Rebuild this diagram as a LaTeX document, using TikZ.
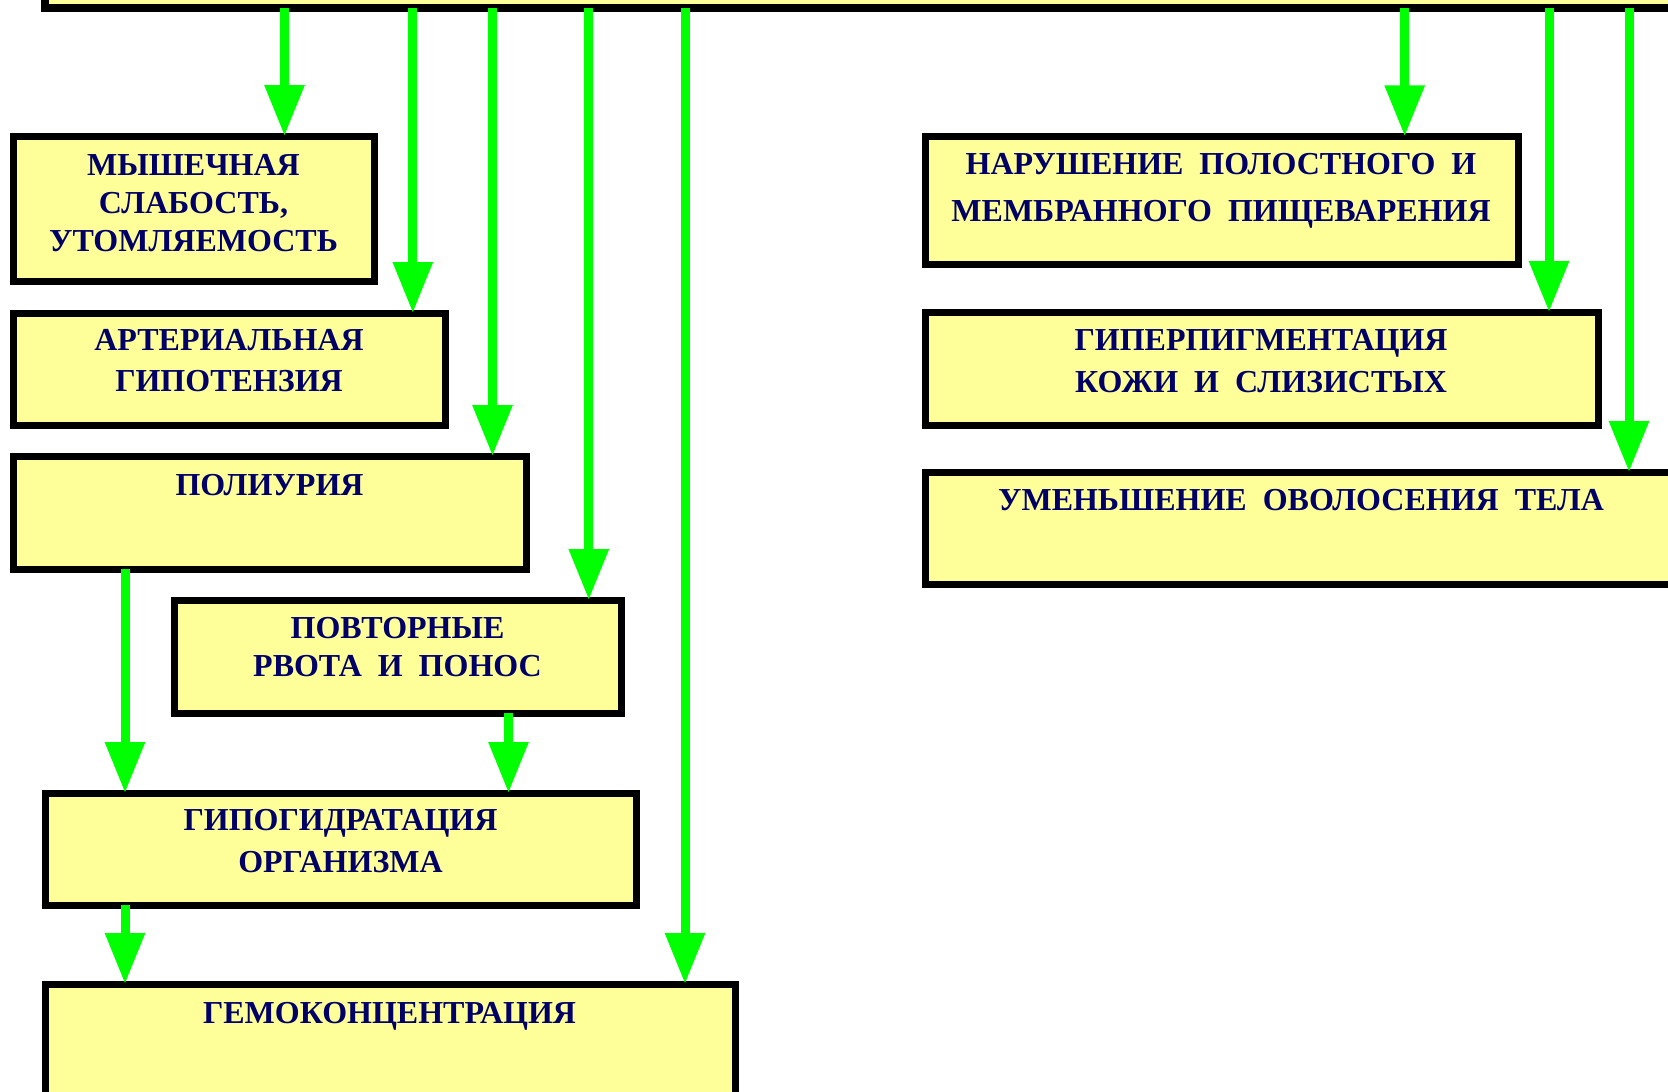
\documentclass[tikz,border=0pt]{standalone}
\usepackage{fontspec}
\setmainfont{Liberation Serif}
\usetikzlibrary{arrows.meta}
\definecolor{boxfill}{RGB}{255,255,153}
\definecolor{txtc}{RGB}{0,0,102}
\definecolor{arrc}{RGB}{0,255,0}
\tikzset{
  box/.style={draw=black, line width=7pt, fill=boxfill, outer sep=0pt, inner sep=0pt, anchor=north west},
  topbox/.style={box, line width=8pt},
  txt/.style={text=txtc, inner sep=0pt, outer sep=0pt, anchor=north, align=center},
  arr/.style={draw=arrc, line width=9pt, -{Triangle[length=51pt,width=38pt]}},
}
\newcommand{\fs}[1]{\fontsize{32}{#1}\selectfont\bfseries}
\begin{document}
\begin{tikzpicture}[x=1pt,y=-1pt]
\useasboundingbox (0,0) rectangle (1668,1092);
\clip (0,0) rectangle (1668,1092);
% boxes
\node[topbox, minimum width=1675pt, minimum height=68pt] (top) at (45,-60) {};
\node[box, minimum width=361pt, minimum height=145pt] (b1) at (13.5,136) {};
\node[box, minimum width=432pt, minimum height=112pt] (b2) at (13.5,313) {};
\node[box, minimum width=513pt, minimum height=113pt] (b3) at (13.5,456) {};
\node[box, minimum width=447pt, minimum height=113pt] (b4) at (174,600) {};
\node[box, minimum width=591pt, minimum height=112pt] (b5) at (45.5,793) {};
\node[box, minimum width=690pt, minimum height=136pt] (b6) at (45.5,984) {};
\node[box, minimum width=593pt, minimum height=128.5pt] (r1) at (925,136.4) {};
\node[box, minimum width=673pt, minimum height=113pt] (r2) at (925,312) {};
\node[box, minimum width=755pt, minimum height=112pt] (r3) at (925,472) {};
% texts
\node[txt, font=\fs{38.3}] (t1) at (193.5,154) {МЫШЕЧНАЯ\\СЛАБОСТЬ,\\УТОМЛЯЕМОСТЬ};
\node[txt, font=\fs{41.8}] (t2) at (229,329) {АРТЕРИАЛЬНАЯ\\ГИПОТЕНЗИЯ};
\node[txt, font=\fs{38}] (t3) at (269.5,474) {ПОЛИУРИЯ};
\node[txt, font=\fs{37.6}] (t4) at (397.5,617.4) {ПОВТОРНЫЕ\\РВОТА~~И~~ПОНОС};
\node[txt, font=\fs{41.8}] (t5) at (340.5,809.8) {ГИПОГИДРАТАЦИЯ\\ОРГАНИЗМА};
\node[txt, font=\fs{38}] (t6) at (389.5,1002.4) {ГЕМОКОНЦЕНТРАЦИЯ};
\node[txt, font=\fs{47}] (tr1) at (1221,153.3) {НАРУШЕНИЕ~~ПОЛОСТНОГО~~И\\МЕМБРАННОГО~~ПИЩЕВАРЕНИЯ};
\node[txt, font=\fs{41.8}] (tr2) at (1261,329.3) {ГИПЕРПИГМЕНТАЦИЯ\\КОЖИ~~И~~СЛИЗИСТЫХ};
\node[txt, font=\fs{38}] (tr3) at (1301,489.5) {УМЕНЬШЕНИЕ~~ОВОЛОСЕНИЯ~~ТЕЛА};
% arrow columns
\coordinate (c1) at (284.5,0);
\coordinate (c2) at (412.8,0);
\coordinate (c3) at (492.5,0);
\coordinate (c4) at (588.8,0);
\coordinate (c5) at (685,0);
\coordinate (c6) at (125,0);
\coordinate (c7) at (508.5,0);
\coordinate (c8) at (1404.7,0);
\coordinate (c9) at (1549,0);
\coordinate (c10) at (1629,0);
% connectors
\draw[arr] (c1 |- top.south) -- (c1 |- b1.north);
\draw[arr] (c2 |- top.south) -- (c2 |- b2.north);
\draw[arr] (c3 |- top.south) -- (c3 |- b3.north);
\draw[arr] (c4 |- top.south) -- (c4 |- b4.north);
\draw[arr] (c5 |- top.south) -- (c5 |- b6.north);
\draw[arr] (c6 |- b3.south) -- (c6 |- b5.north);
\draw[arr] (c7 |- b4.south) -- (c7 |- b5.north);
\draw[arr] (c6 |- b5.south) -- (c6 |- b6.north);
\draw[arr] (c8 |- top.south) -- (c8 |- r1.north);
\draw[arr] (c9 |- top.south) -- (c9 |- r2.north);
\draw[arr] (c10 |- top.south) -- (c10 |- r3.north);
\end{tikzpicture}
\end{document}
